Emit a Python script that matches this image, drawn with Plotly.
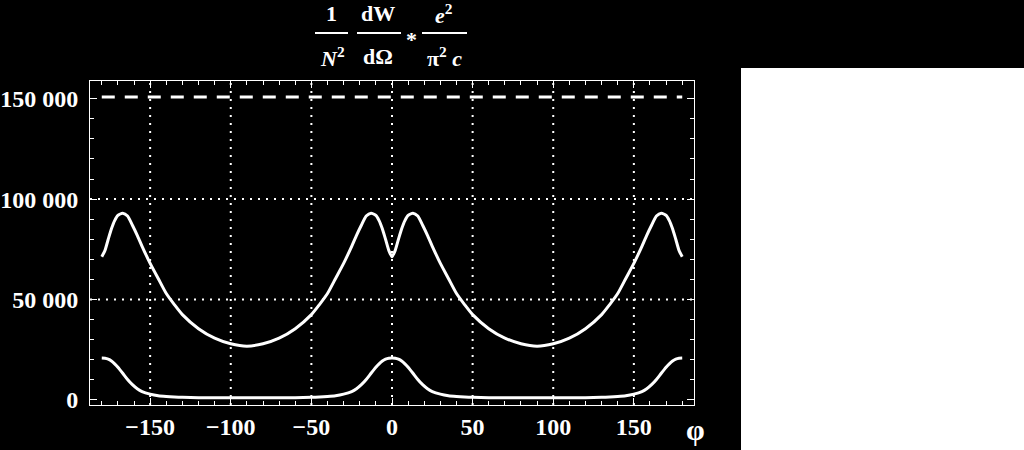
import plotly.graph_objects as go

# ---------------- data ----------------
phi = [-180, -178, -176, -174, -172, -170, -167, -164, -161, -158, -155, -150, -145, -140, -135, -130, -120, -110, -100, -90,
       -80, -70, -60, -50, -45, -40, -35, -30, -25, -22, -19, -16, -13, -10, -8, -6, -4, -2, 0,
       2, 4, 6, 8, 10, 13, 16, 19, 22, 25, 30, 35, 40, 45, 50, 60, 70, 80, 90,
       100, 110, 120, 130, 135, 140, 145, 150, 155, 158, 161, 164, 167, 170, 172, 174, 176, 178, 180]

upper = [71300, 74500, 80000, 85200, 89300, 91900, 93000, 91600, 87000, 82000, 76500, 68000, 60500, 53000, 47500, 42500, 35500, 30800, 28000, 26800,
         28000, 30800, 35500, 42500, 47500, 53000, 60500, 68000, 76500, 82000, 87000, 91600, 93000, 91900, 89300, 85200, 80000, 74500, 71300,
         74500, 80000, 85200, 89300, 91900, 93000, 91600, 87000, 82000, 76500, 68000, 60500, 53000, 47500, 42500, 35500, 30800, 28000, 26800,
         28000, 30800, 35500, 42500, 47500, 53000, 60500, 68000, 76500, 82000, 87000, 91600, 93000, 91900, 89300, 85200, 80000, 74500, 71300]

lower = [20900, 20800, 20300, 19400, 18000, 16300, 13300, 10200, 7600, 5600, 4200, 2900, 2100, 1700, 1450, 1300, 1150, 1100, 1050, 1050,
         1050, 1100, 1150, 1300, 1450, 1700, 2100, 2900, 4200, 5600, 7600, 10200, 13300, 16300, 18000, 19400, 20300, 20800, 20900,
         20800, 20300, 19400, 18000, 16300, 13300, 10200, 7600, 5600, 4200, 2900, 2100, 1700, 1450, 1300, 1150, 1100, 1050, 1050,
         1050, 1100, 1150, 1300, 1450, 1700, 2100, 2900, 4200, 5600, 7600, 10200, 13300, 16300, 18000, 19400, 20300, 20800, 20900]

level_x = [-180, 180]
level_y = [150800, 150800]

x_ticks = [-150, -100, -50, 0, 50, 100, 150]
x_ticktext = ["\u2212150", "\u2212100", "\u221250", "0", "50", "100", "150"]
y_ticks = [0, 50000, 100000, 150000]
y_ticktext = ["0", "50 000", "100 000", "150 000"]
y_grid = [50000, 100000]

# ---------------- layout helpers ----------------
W, H = 1024, 450
L, R, T, B = 90, 330, 81, 45
PW, PH = W - L - R, H - T - B


def px(x):
    return (x - L) / PW


def py(y):
    return (H - B - y) / PH


FONT = "Liberation Serif"
WHITE = "white"

fig = go.Figure()

fig.add_trace(go.Scatter(x=phi, y=upper, mode="lines", line=dict(color=WHITE, width=3, shape="spline", smoothing=0.6),
                         showlegend=False, hoverinfo="skip"))
fig.add_trace(go.Scatter(x=phi, y=lower, mode="lines", line=dict(color=WHITE, width=3, shape="spline", smoothing=0.6),
                         showlegend=False, hoverinfo="skip"))
fig.add_trace(go.Scatter(x=level_x, y=level_y, mode="lines", line=dict(color=WHITE, width=3, dash="13px,10px"),
                         showlegend=False, hoverinfo="skip"))

shapes = []
# dotted grid lines
for xv in x_ticks:
    shapes.append(dict(type="line", xref="x", yref="paper", x0=xv, x1=xv, y0=0, y1=1,
                       line=dict(color=WHITE, width=2, dash="2px,6px"), layer="below"))
for yv in y_grid:
    shapes.append(dict(type="line", xref="paper", yref="y", x0=0, x1=1, y0=yv, y1=yv,
                       line=dict(color=WHITE, width=2, dash="2px,6px"), layer="below"))
# fraction bars of the title
for x0, x1 in [(315, 348), (357, 401), (422, 467)]:
    shapes.append(dict(type="line", xref="paper", yref="paper", x0=px(x0), x1=px(x1), y0=py(33), y1=py(33),
                       line=dict(color=WHITE, width=2)))
# white panel at right
shapes.append(dict(type="rect", xref="paper", yref="paper", x0=px(741), x1=px(1024), y0=py(450), y1=py(68),
                   fillcolor="white", line=dict(width=0), layer="above"))

annotations = []
title_parts = [
    ("<b>1</b>", 331, 14),
    ("<b><i>N</i><sup>2</sup></b>", 332, 57),
    ("<b>dW</b>", 378, 14),
    ("<b>d\u03a9</b>", 378, 57),
    ("<b>*</b>", 411, 39),
    ("<b><i>e</i><sup>2</sup></b>", 444, 14),
    ("<b>\u03c0<sup>2</sup> <i>c</i></b>", 444, 57),
]
for txt, x, y in title_parts:
    annotations.append(dict(text=txt, x=px(x), y=py(y), xref="paper", yref="paper", showarrow=False,
                            xanchor="center", yanchor="middle", font=dict(family=FONT, size=22, color=WHITE)))
annotations.append(dict(text="<b>\u03c6</b>", x=px(695), y=py(430), xref="paper", yref="paper", showarrow=False,
                        xanchor="center", yanchor="middle", font=dict(family=FONT, size=30, color=WHITE)))

axis_common = dict(showline=True, linecolor=WHITE, linewidth=1, mirror="allticks", ticks="inside",
                   ticklen=7, tickwidth=1, tickcolor=WHITE, showgrid=False, zeroline=False, automargin=False,
                   tickfont=dict(family=FONT, size=24, color=WHITE))

fig.update_layout(
    width=W, height=H,
    margin=dict(l=L, r=R, t=T, b=B, pad=0, autoexpand=False),
    paper_bgcolor="black", plot_bgcolor="black",
    xaxis=dict(range=[-187.3, 187.3], tickmode="array", tickvals=x_ticks,
               ticktext=["<b>" + t + "</b>" for t in x_ticktext],
               minor=dict(dtick=10, tick0=0, ticks="inside", ticklen=4, tickcolor=WHITE, tickwidth=1, showgrid=False),
               **axis_common),
    yaxis=dict(range=[-2500, 158800], tickmode="array", tickvals=y_ticks,
               ticktext=["<b>" + t + "</b>" for t in y_ticktext], ticklabelstandoff=6,
               minor=dict(dtick=10000, tick0=0, ticks="inside", ticklen=4, tickcolor=WHITE, tickwidth=1, showgrid=False),
               **axis_common),
    shapes=shapes,
    annotations=annotations,
    showlegend=False,
)

fig.write_html("out.html", config={"displayModeBar": False},
               post_script="document.body.style.margin='0';document.body.style.padding='0';"
                           "document.body.style.background='black';")
